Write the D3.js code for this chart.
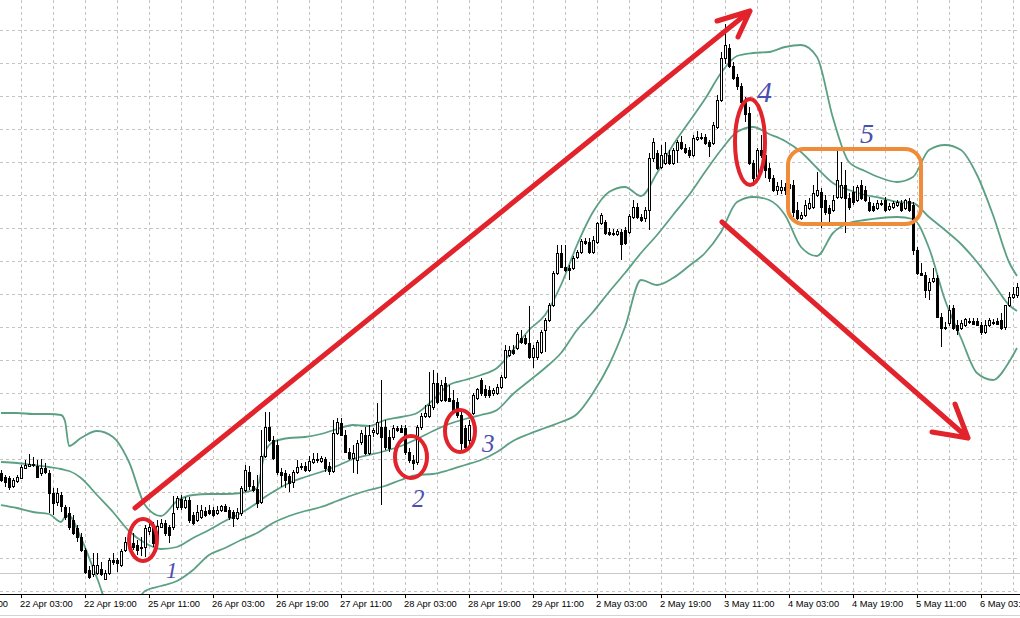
<!DOCTYPE html>
<html><head><meta charset="utf-8">
<script src="https://cdn.jsdelivr.net/npm/d3@7"></script>
<style>html,body{margin:0;padding:0;background:#fff;overflow:hidden}</style>
</head><body><svg id="c" width="1020" height="618"></svg>
<script>
// Hourly candles (price in points)
const opens=[
127,123,122,114,119,122,132,134,136,134, 127,132,127,107,98,105,93,87,80,72,
63,50,30,26,27,31,21,27,40,40, 35,50,60,57,55,53,53,69,75,62,
73,77,73,73,93,101,93,100,85,80, 83,89,90,90,87,90,94,90,88,82,
87,110,128,114,111,98,144,173,160,155, 128,127,124,118,128,133,134,130,138,141,
139,141,134,129,167,177,165,148,142,140, 158,165,147,168,167,173,173,163,163,172,
172,172,148,140,138,173,184,184,193,217, 200,217,202,200,198,185,172,160,187,202,
220,211,210,207,207,213,223,245,250,252, 262,262,257,243,243,248,270,280,295,327,
347,333,332,332,343,348,359,358,348,358, 377,378,368,367,366,368,370,368,383,393,
383,382,390,442,447,433,437,445,437,450, 458,452,450,445,461,463,463,458,457,473,
500,542,552,534,523,514,498,487,437,424, 450,445,432,422,410,410,413,412,415,390,
382,385,392,393,405,408,400,392,390,403, 403,415,402,408,400,415,410,398,394,392,
397,400,391,393,395,397,392,399,395,350, 327,325,310,319,322,283,273,277,292,275,
272,275,279,279,279,275,268,275,278,279, 280,273,295,303,305];
const highs=[
130,125,124,122,125,135,140,146,143,140, 141,137,130,112,112,108,95,93,85,75,
67,52,34,47,47,38,30,42,47,42, 51,63,64,67,60,63,75,78,78,80,
81,80,75,104,104,105,103,103,88,95, 95,93,95,93,94,95,96,93,90,92,
114,135,134,120,125,170,188,188,164,160, 132,130,126,130,140,137,138,144,147,147,
144,143,138,180,182,182,170,152,155,160, 170,173,175,172,197,220,180,170,175,174,
175,175,152,145,175,187,195,228,230,227, 220,223,215,210,202,188,175,180,207,212,
222,215,214,212,216,225,255,254,255,268, 270,265,294,255,260,270,282,297,329,355,
355,355,335,344,350,361,362,362,364,378, 387,380,372,371,371,371,373,386,400,397,
386,393,447,462,450,455,458,450,452,460, 464,456,453,465,469,467,466,460,478,505,
548,576,556,538,526,517,503,493,440,452, 465,450,437,425,418,420,417,419,420,398,
388,400,402,415,428,412,405,395,405,453, 438,430,407,414,415,420,414,403,397,400,
400,403,397,399,400,400,401,402,398,353, 337,328,322,332,325,287,278,295,295,280,
280,282,282,282,282,278,280,282,281,282, 287,295,308,313,317];
const lows=[
118,113,110,112,117,121,131,133,133,122, 124,126,87,85,94,88,80,70,65,58,
48,26,21,23,25,24,20,25,35,28, 33,48,52,50,45,44,43,65,53,60,
72,64,57,70,90,90,91,77,75,78, 81,83,85,83,85,88,88,80,73,80,
84,108,110,108,92,96,142,158,140,125, 113,112,108,112,126,130,128,128,136,137,
137,128,125,127,165,164,147,140,127,126, 155,145,145,163,165,95,150,148,160,168,
167,145,137,130,135,170,182,182,190,196, 198,198,198,186,182,150,150,152,185,200,
204,202,202,204,205,211,221,243,245,250, 256,255,241,232,240,246,248,278,293,325,
332,328,320,330,341,346,355,346,346,356, 375,365,364,364,364,340,355,366,381,381,
378,378,370,438,430,431,435,435,435,437, 450,446,442,443,459,460,455,443,455,471,
498,536,532,520,510,496,478,435,415,422, 442,422,418,408,405,406,405,408,383,380,
380,383,390,391,403,372,385,377,388,401, 401,367,390,395,398,400,398,388,388,390,
394,388,389,391,393,388,390,388,345,325, 324,302,300,317,282,253,270,274,270,265,
270,273,276,275,274,265,266,273,275,275, 270,270,293,301,302];
const closes=[
120,118,113,120,123,133,135,136,135,123, 132,128,107,97,107,94,83,73,67,63,
50,28,23,35,35,26,27,40,38,37, 49,58,55,53,50,52,72,73,57,74,
77,67,65,87,102,93,100,80,77,88, 90,85,87,85,90,94,89,83,82,88,
112,130,114,110,97,144,173,160,142,128, 125,120,117,128,133,134,130,139,141,140,
142,132,129,167,178,165,148,142,147,157, 167,147,165,170,178,163,153,152,172,170,
168,148,140,137,173,184,187,195,217,198, 215,200,199,188,185,157,153,175,205,211,
207,205,205,210,213,223,250,250,247,266, 258,257,243,252,258,268,280,295,327,347,
333,330,330,342,348,359,357,348,360,377, 385,367,366,367,369,356,357,384,393,383,
380,390,442,458,432,445,447,437,450,458, 452,448,445,462,463,462,457,454,475,500,
542,555,534,522,514,498,486,437,422,450, 445,430,422,410,414,413,410,416,388,382,
385,395,397,407,410,393,388,387,400,420, 415,402,393,398,413,402,400,390,390,397,
396,390,394,397,398,390,400,390,350,327, 325,310,318,322,283,272,272,290,272,270,
277,281,278,276,275,268,275,280,277,276, 272,295,303,306,313];

// Bollinger bands read at these bar indices
const bandIdx=[0,4,8,12,15,16,17,20,24,28,32,36,40,44,48,52,56,60,64,66,
68,72,76,80,84,88,92,96,100,104,108,112,116,120,124,128,132,136,140,144,
148,152,156,160,164,168,172,176,180,184,188,192,196,200,204,208,212,216,220,224,
228,232,236,240,244,248,252,254];
const upperBand=[187,187,186,186,185,179,154,162,169,163,138,95,84,99,105,106,106,107,112,148,
158,162,163,166,171,175,174,180,183,187,200,215,220,225,232,250,270,285,315,355,
388,408,413,404,427,455,478,501,527,544,547,548,553,555,543,482,438,429,422,418,
423,450,455,450,425,385,338,324];
const middleBand=[138,137,135,133,131,130,129,122,105,88,69,57,51,53,62,70,79,87,97,103,
108,117,123,128,134,141,145,149,154,161,169,176,181,185,190,206,219,232,247,270,
288,308,327,347,365,385,405,428,450,468,473,466,459,448,432,417,410,405,402,398,
397,383,370,356,338,317,295,289];
const lowerBand=[95,92,88,86,78,83,84,62,22,-15,-12,9,14,19,30,45,52,60,67,72,
77,84,89,93,99,105,110,114,120,125,126,130,135,140,148,159,166,172,178,186,
207,235,273,320,315,322,334,347,368,398,403,400,385,353,344,367,377,380,382,383,
381,352,300,262,227,220,238,252];

// time axis
const tickBars=[-11,5,21,37,53,69,85,101,117,133,149,165,181,197,213,229,245];
const tickLabels=["21 Apr 11:00","22 Apr 03:00","22 Apr 19:00","25 Apr 11:00","26 Apr 03:00",
"26 Apr 19:00","27 Apr 11:00","28 Apr 03:00","28 Apr 19:00","29 Apr 11:00","2 May 03:00",
"2 May 19:00","3 May 11:00","4 May 03:00","4 May 19:00","5 May 11:00","6 May 03:00"];

// annotations (bar index, price)
const arrowFrom=[[33.5,92],[180.25,378]];
const arrowTo=[[187.25,589],[241.75,162]];
const arrowWingA=[[179,579],[232.75,168]];
const arrowWingB=[[184.25,563],[238.5,196]];
const ellipseCenters=[[35.5,60],[102.5,143],[114.75,169],[187.25,458]];
const ellipseRadii=[[14,21],[16,21],[15,21],[15,43]];
const boxBars=[196.75,230], boxPrices=[376,451];
const noteLabels=["1","2","3","4","5"];
const noteBars=[41.25,102.75,120.25,189,214.75];
const notePrices=[22,93,148,498,457];
const noteSizes=[23,25,25,30,28];

const W=1020,H=618,axisY=594;
const x=d3.scaleLinear().domain([0,254]).range([1,1017]);
const y=d3.scaleLinear().domain([0,600]).range([600,0]);
const svg=d3.select('#c');
svg.append('rect').attr('width',W).attr('height',H).attr('fill','#fff');

// grid
const grid=svg.append('g').attr('stroke','#c4c4c4').attr('stroke-dasharray','3,3').attr('shape-rendering','crispEdges');
grid.selectAll('line.h').data(d3.range(9,600,33)).join('line').attr('class','h')
  .attr('x1',0).attr('x2',W).attr('y1',d=>Math.round(y(d))+0.5).attr('y2',d=>Math.round(y(d))+0.5);
grid.selectAll('line.v').data(d3.range(5,255,8)).join('line').attr('class','v')
  .attr('y1',0).attr('y2',axisY).attr('x1',d=>Math.round(x(d))+0.5).attr('x2',d=>Math.round(x(d))+0.5);
svg.append('line').attr('x1',0).attr('x2',W).attr('y1',Math.round(y(27))+0.5).attr('y2',Math.round(y(27))+0.5)
  .attr('stroke','#c8c8c8');

svg.append('clipPath').attr('id','plot').append('rect').attr('x',0).attr('y',0).attr('width',W).attr('height',axisY);
const plot=svg.append('g').attr('clip-path','url(#plot)');

// bands
const bandLine=d3.line().x((d,k)=>x(bandIdx[k])).y(d=>y(d)).curve(d3.curveMonotoneX);
[upperBand,middleBand,lowerBand].forEach(b=>{
  plot.append('path').attr('d',bandLine(b)).attr('fill','none').attr('stroke','#5ba083').attr('stroke-width',1.8);
});

// candles
const idx=d3.range(opens.length);
const cg=plot.append('g').attr('shape-rendering','crispEdges');
cg.selectAll('line').data(idx).join('line')
  .attr('x1',i=>Math.round(x(i))+0.5).attr('x2',i=>Math.round(x(i))+0.5)
  .attr('y1',i=>y(highs[i])).attr('y2',i=>y(lows[i])).attr('stroke','#000');
cg.selectAll('rect').data(idx).join('rect')
  .attr('x',i=>Math.round(x(i))-0.5).attr('width',2)
  .attr('y',i=>Math.round(y(Math.max(opens[i],closes[i])))+0.5)
  .attr('height',i=>Math.max(1,Math.round(y(Math.min(opens[i],closes[i]))-y(Math.max(opens[i],closes[i])))))
  .attr('fill',i=>closes[i]>=opens[i]?'#fff':'#000').attr('stroke','#000');

// axis
const ax=d3.axisBottom(x).tickValues(tickBars).tickFormat((d,k)=>tickLabels[k]).tickSize(4).tickSizeOuter(0);
const axG=svg.append('g').attr('transform',`translate(0,${axisY})`).call(ax);
axG.select('.domain').remove();
axG.selectAll('.tick line').attr('stroke','#000');
axG.selectAll('.tick text').attr('text-anchor','start').attr('x',-1.5).attr('y',13).attr('dy',0)
  .attr('fill','#000').style('font','9.3px "Liberation Sans", Arial, sans-serif');
svg.append('line').attr('x1',0).attr('x2',W).attr('y1',axisY+0.5).attr('y2',axisY+0.5).attr('stroke','#000');
svg.append('line').attr('x1',0).attr('x2',W).attr('y1',615.5).attr('y2',615.5).attr('stroke','#d4d4d4');

// annotations
const red='#e2232b';
const ann=svg.append('g');
arrowFrom.forEach((f,k)=>{
  const t=arrowTo[k],a=arrowWingA[k],b=arrowWingB[k];
  const p=d3.path();
  p.moveTo(x(f[0]),y(f[1]));p.lineTo(x(t[0]),y(t[1]));
  p.moveTo(x(a[0]),y(a[1]));p.lineTo(x(t[0]),y(t[1]));p.lineTo(x(b[0]),y(b[1]));
  ann.append('path').attr('d',p.toString()).attr('fill','none').attr('stroke',red)
    .attr('stroke-width',5).attr('stroke-linecap','round').attr('stroke-linejoin','round');
});
ellipseCenters.forEach((c,k)=>{
  ann.append('ellipse').attr('cx',x(c[0])).attr('cy',y(c[1])).attr('rx',ellipseRadii[k][0]).attr('ry',ellipseRadii[k][1])
    .attr('fill','none').attr('stroke',red).attr('stroke-width',4);
});
ann.append('rect').attr('x',x(boxBars[0])).attr('y',y(boxPrices[1]))
  .attr('width',x(boxBars[1])-x(boxBars[0])).attr('height',y(boxPrices[0])-y(boxPrices[1]))
  .attr('rx',16).attr('fill','none').attr('stroke','#f08b3a').attr('stroke-width',4);
noteLabels.forEach((t,k)=>{
  ann.append('text').attr('x',x(noteBars[k])).attr('y',y(notePrices[k])).text(t)
    .attr('fill','#4b4fae').style('font-family','"Liberation Serif","Times New Roman",serif')
    .style('font-style','italic').style('font-size',noteSizes[k]+'px');
});
</script></body></html>
